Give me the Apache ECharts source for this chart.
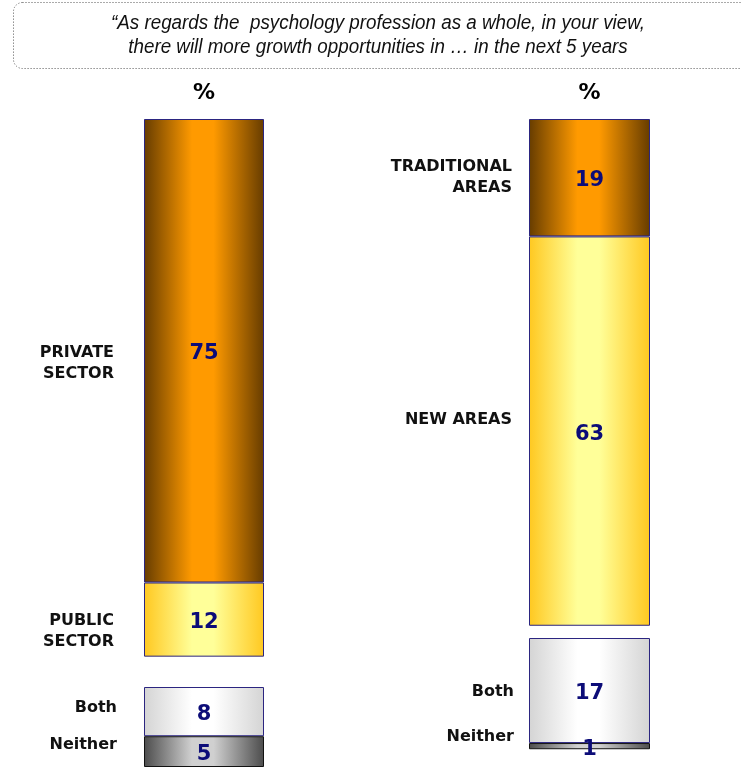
<!DOCTYPE html>
<html>
<head>
<meta charset="utf-8">
<script src="https://cdn.jsdelivr.net/npm/echarts@6/dist/echarts.min.js"></script>
<style>
  html, body { margin: 0; padding: 0; background: #fff; }
  #chart { width: 741px; height: 767px; }
</style>
</head>
<body>
<div id="chart"></div>
<script>
// data
const titleLines = [
  '\u201cAs regards the  psychology profession as a whole, in your view,',
  'there will more growth opportunities in \u2026 in the next 5 years'
]
const headerLabel = '%'

const leftTopNames = ['PRIVATE\nSECTOR', 'PUBLIC\nSECTOR']
const leftTopValues = [75, 12]
const leftBottomNames = ['Both', 'Neither']
const leftBottomValues = [8, 5]

const rightTopNames = ['TRADITIONAL\nAREAS', 'NEW AREAS']
const rightTopValues = [19, 63]
const rightBottomNames = ['Both', 'Neither']
const rightBottomValues = [17, 1]

// pixels per percentage point
const UNIT = 6.18

const fills = {
  orange: ['#663c00', '#ff9a00', '#ff9a00', '#663c00'],
  yellow: ['#ffc820', '#ffff99', '#ffff99', '#ffc820'],
  light: ['#d4d4d4', '#ffffff', '#ffffff', '#d4d4d4'],
  dark: ['#4c4c4c', '#d0d0d0', '#d0d0d0', '#4c4c4c']
}

function grad(c) {
  return new echarts.graphic.LinearGradient(0, 0, 1, 0, [
    { offset: 0, color: c[0] },
    { offset: 0.4, color: c[1] },
    { offset: 0.58, color: c[2] },
    { offset: 1, color: c[3] }
  ])
}

// nudge = vertical shift of the side labels, as placed on the slide
const groups = [
  { left: 144, width: 120, top: 119, names: leftTopNames, values: leftTopValues, fill: ['orange', 'yellow'], header: true, gap: 30, nudge: [13, 12], border: ['#2b2580', '#2b2580'] },
  { left: 144, width: 120, top: 687, names: leftBottomNames, values: leftBottomValues, fill: ['light', 'dark'], header: false, gap: 27, nudge: [-4, -7], border: ['#2b2580', '#111'] },
  { left: 529, width: 121, top: 119, names: rightTopNames, values: rightTopValues, fill: ['orange', 'yellow'], header: true, gap: 17, nudge: [0, -11], border: ['#2b2580', '#2b2580'] },
  { left: 529, width: 121, top: 638, names: rightBottomNames, values: rightBottomValues, fill: ['light', 'dark'], header: false, gap: 15, nudge: [1, -9], border: ['#2b2580', '#111'] }
]

const chart = echarts.init(document.getElementById('chart'))

const grid = []
const xAxis = []
const yAxis = []
const series = []

groups.forEach((g, i) => {
  const total = g.values.reduce((s, v) => s + v, 0)
  grid.push({ left: g.left, top: g.top, width: g.width, height: total * UNIT })
  xAxis.push({
    gridIndex: i,
    type: 'category',
    data: [headerLabel],
    position: 'top',
    axisLine: { show: false },
    axisTick: { show: false },
    axisLabel: {
      show: g.header,
      margin: 15,
      fontSize: 22,
      fontWeight: 'bold',
      fontFamily: 'DejaVu Sans',
      color: '#000'
    }
  })
  yAxis.push({ gridIndex: i, type: 'value', inverse: true, min: 0, max: total, show: false })

  g.values.forEach((v, j) => {
    series.push({
      type: 'bar',
      xAxisIndex: i,
      yAxisIndex: i,
      stack: 'v' + i,
      barWidth: '100%',
      barGap: '-100%',
      data: [v],
      itemStyle: { color: grad(fills[g.fill[j]]), borderColor: g.border[j], borderWidth: 1 },
      label: {
        show: true,
        position: 'inside',
        offset: [0, 3],
        fontSize: 21,
        fontWeight: 'bold',
        fontFamily: 'DejaVu Sans',
        color: '#0c0c78'
      },
      silent: true
    })
    series.push({
      type: 'bar',
      xAxisIndex: i,
      yAxisIndex: i,
      stack: 'n' + i,
      barWidth: '100%',
      barGap: '-100%',
      data: [v],
      itemStyle: { color: 'rgba(0,0,0,0)' },
      label: {
        show: true,
        position: 'left',
        distance: g.gap,
        align: 'right',
        offset: [0, g.nudge[j]],
        formatter: () => g.names[j],
        fontSize: 16,
        fontWeight: 'bold',
        fontFamily: 'DejaVu Sans',
        lineHeight: 21,
        color: '#111'
      },
      silent: true
    })
  })
})

chart.setOption({
  animation: false,
  graphic: [
    {
      type: 'rect',
      shape: { x: 13.5, y: 2.5, width: 760, height: 66, r: 9 },
      style: { fill: 'none', stroke: '#555', lineWidth: 1, lineDash: [1, 2] }
    },
    {
      type: 'text',
      x: 378,
      y: 11,
      scaleX: 0.94,
      style: {
        text: titleLines.join('\n'),
        textAlign: 'center',
        fontSize: 20,
        fontStyle: 'italic',
        fontFamily: 'Liberation Sans',
        lineHeight: 24,
        fill: '#111'
      }
    }
  ],
  grid,
  xAxis,
  yAxis,
  series
})
</script>
</body>
</html>
